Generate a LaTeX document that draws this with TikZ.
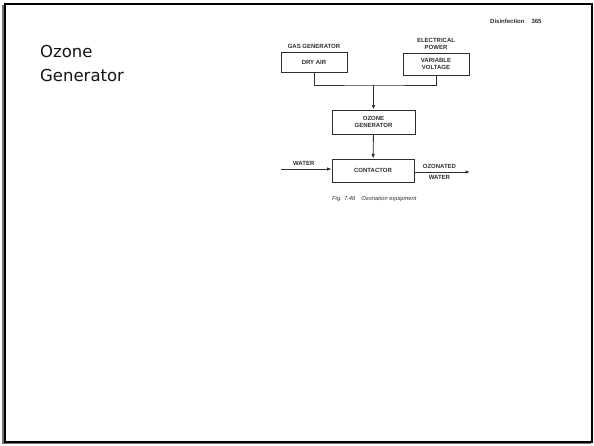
\documentclass[tikz,border=0pt]{standalone}
\usepackage{fontspec}
\setmainfont{Liberation Sans}
\newfontfamily\titlefont{DejaVu Sans}
\usetikzlibrary{positioning}
\usetikzlibrary{arrows.meta}
\tikzset{>={Latex[length=4.5pt,width=3.6pt]}}
\usepackage{xcolor}
\colorlet{scancol}{black!82}
\colorlet{framecol}{black!55}
\tikzstyle{unit}=[draw=scancol,line width=0.9pt,inner sep=0,align=center,
                  font=\bfseries\fontsize{6}{6.6}\selectfont,text=scancol]
\tikzstyle{tag}=[inner sep=0,align=center,font=\bfseries\fontsize{6}{6.6}\selectfont,text=scancol]
\tikzstyle{pipe}=[line width=0.9pt,scancol]
\tikzstyle{flow}=[->,line width=0.9pt,scancol]

\begin{document}
\begin{tikzpicture}[x=1pt,y=-1pt]
  % FRAME
  \useasboundingbox (0,0) rectangle (594,445);
  \draw[framecol,line width=1.5pt] (3,5) -- (3,443.5) -- (591,443.5);
  \draw[black,line width=2pt] (5,4) rectangle (592,442);

  % TITLE
  \node[anchor=north west,inner sep=0,align=left,text=black!92,
        font=\titlefont\fontsize{16.5}{24}\selectfont] (title) at (40,45.5)
    {Ozone\\Generator};

  % PAGE HEADER
  \node[tag,anchor=west] (header) at (490,21) {Disinfection\hspace{7pt}365};

  % UNITS
  \node[unit,minimum width=66,minimum height=20] (dryair) at (314,62) {DRY AIR};
  \node[unit,minimum width=66,minimum height=22] (voltage) at (436,64)
    {VARIABLE\\VOLTAGE};
  \node[unit,minimum width=83,minimum height=24] (ozgen) at (373.5,122)
    {OZONE\\GENERATOR};
  \node[unit,minimum width=82,minimum height=23] (contactor) at (373,170.5)
    {CONTACTOR};

  % LABELS
  \node[tag,above=3pt of dryair] (gasgen) {GAS GENERATOR};
  \node[tag,above=3pt of voltage] (power) {ELECTRICAL\\POWER};

  % CONNECTORS
  \coordinate (join) at (373.5,85);
  \coordinate (waterin) at (281,169);
  \coordinate (waterout) at (470,172);
  \draw[pipe] (dryair) |- (join) -| (voltage);
  \draw[flow] (join) -- (ozgen);
  \draw[flow] (ozgen) -- (contactor);
  \draw[flow] (waterin) -- (contactor.west |- waterin)
    node[tag,pos=0.45,above=3pt] (water) {WATER};
  \draw[flow] (contactor.east |- waterout) -- (waterout)
    node[tag,pos=0.45,above=2.5pt] (ozonated) {OZONATED}
    node[tag,pos=0.45,below=2.5pt] (ozwater) {WATER};

  % CAPTION
  \node[anchor=west,inner sep=0,text=scancol,font=\itshape\fontsize{5.8}{6}\selectfont]
    (caption) at (332,199) {Fig. 7.46\hspace{6pt}Ozonation equipment};
\end{tikzpicture}
\end{document}
